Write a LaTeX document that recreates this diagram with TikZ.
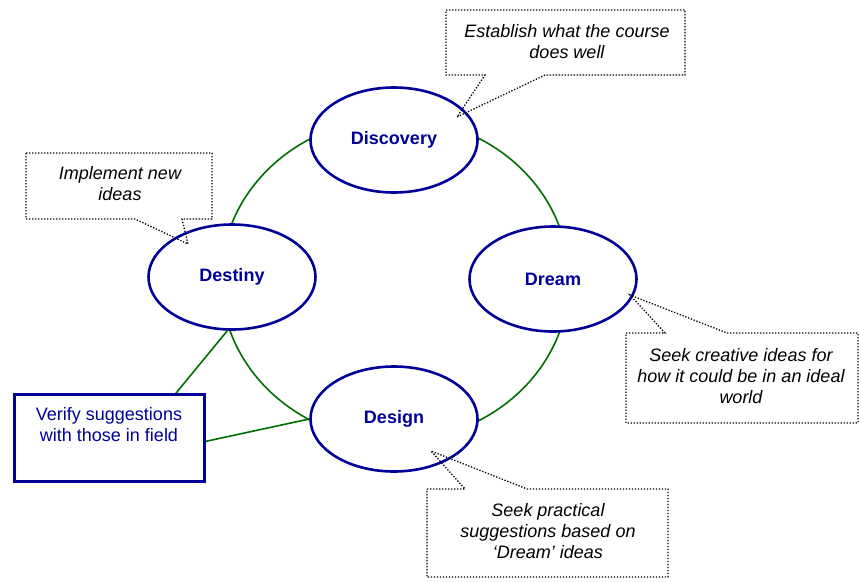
\documentclass[tikz,border=0pt]{standalone}
\usepackage{fontspec}
\setmainfont{Liberation Sans}
\usetikzlibrary{shapes.geometric}
\definecolor{cyclink}{RGB}{0,110,0}
\definecolor{phase}{RGB}{0,0,153}

\begin{document}
\begin{tikzpicture}[x=1pt,y=-1pt,
  phasenode/.style={ellipse, draw=phase, line width=2.6pt, fill=white,
    minimum width=167pt, minimum height=105pt, inner sep=0pt, text=phase,
    font=\fontsize{18}{21}\selectfont\bfseries},
  link/.style={draw=cyclink, line width=1.6pt},
  callout/.style={draw=black, line width=1.3pt, dash pattern=on 1.3pt off 1.7pt},
  notetext/.style={align=center, inner sep=0pt,
    font=\fontsize{18}{21}\selectfont\itshape},
  fieldbox/.style={rectangle, draw=phase, line width=2.6pt, fill=white,
    minimum width=190pt, minimum height=87pt, inner sep=0pt},
]
\useasboundingbox (0,0) rectangle (859,581);

% the cycle that joins the four phases
\coordinate (hub) at (395,279.5);
\draw[link] (hub) ellipse [x radius=174pt, y radius=161pt];

% the four phases
\node[phasenode] (discovery) at (394,140) {Discovery};
\node[phasenode] (dream)     at (553,279) {Dream};
\node[phasenode] (design)    at (394,419) {Design};
\node[phasenode] (destiny)   at (232,277) {Destiny};

% field check box and its links
\node[fieldbox] (verify) at (109.5,438) {};
\node[align=center, inner sep=0pt, text=phase,
  font=\fontsize{18}{21}\selectfont] (verifytext) at (109,425)
  {Verify suggestions\\with those in field};
\draw[link] (destiny.265) -- (verify.34);
\draw[link] (design.west) -- (verify.-2);

% callout tips
\coordinate (tipA) at (457,117);
\coordinate (tipB) at (188,244);
\coordinate (tipC) at (630,295);
\coordinate (tipD) at (431,451);

% callouts
\draw[callout] (446,10) -- (685,10) -- (685,75) -- (545,75) -- (tipA)
  -- (485,75) -- (446,75) -- cycle;
\node[notetext] (noteA) at (567,42) {Establish what the course\\does well};

\draw[callout] (26,153) -- (212,153) -- (212,219) -- (182,219) -- (tipB)
  -- (135,219) -- (26,219) -- cycle;
\node[notetext] (noteB) at (120,184) {Implement new\\ideas};

\draw[callout] (626,333) -- (665,333) -- (tipC) -- (727,333) -- (858,333)
  -- (858,423) -- (626,423) -- cycle;
\node[notetext] (noteC) at (741,376)
  {Seek creative ideas for\\how it could be in an ideal\\world};

\draw[callout] (427,489) -- (465,489) -- (tipD) -- (527,489) -- (668,489)
  -- (668,577) -- (427,577) -- cycle;
\node[notetext] (noteD) at (548,531)
  {Seek practical\\suggestions based on\\`Dream' ideas};
\end{tikzpicture}
\end{document}
